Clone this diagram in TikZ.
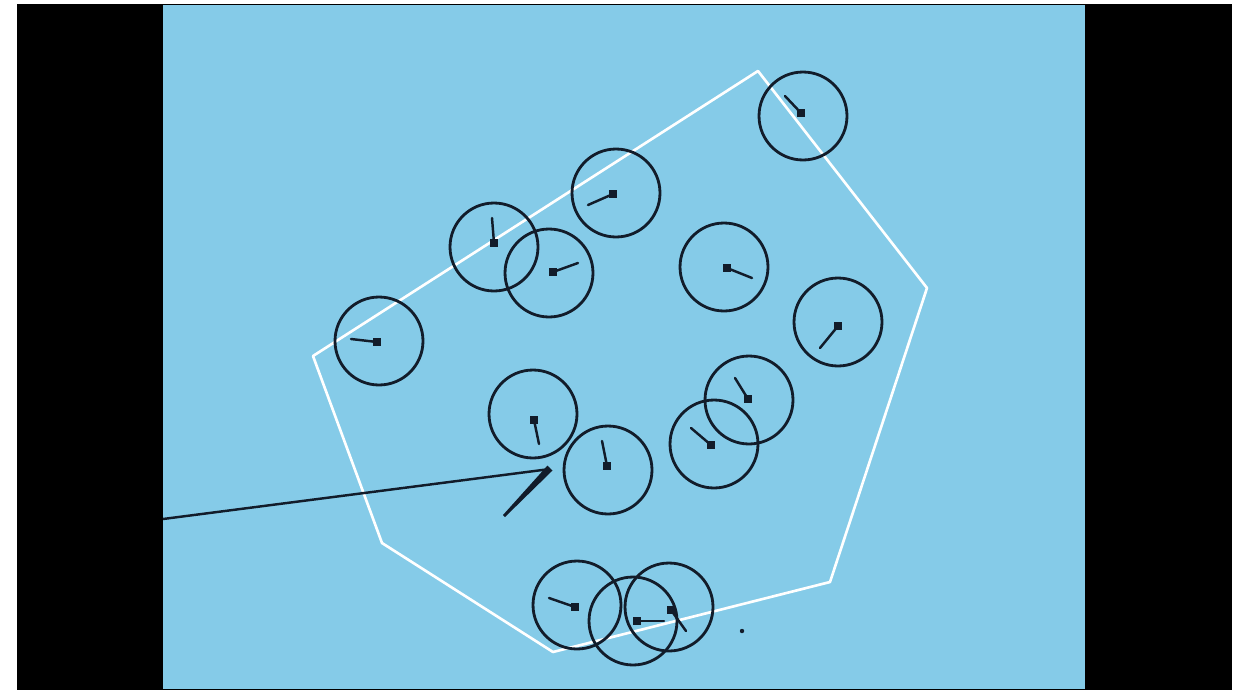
\documentclass[tikz,border=0pt]{standalone}
\usepackage{tikz}
\usetikzlibrary{positioning}
\definecolor{pane}{RGB}{133,203,232}
\definecolor{ringc}{RGB}{18,28,42}

\begin{document}
\begin{tikzpicture}[
  x=0.02cm, y=-0.02cm,
  agent/.style={circle, draw=ringc, line width=1.6pt, minimum size=1.76cm, inner sep=0pt},
  needle/.style={draw=ringc, line width=1.4pt, line cap=round},
  blob/.style={rectangle, fill=ringc, minimum size=0.17cm, inner sep=0pt},
  hull/.style={draw=white, line width=1.5pt, line join=round},
  pointer/.style={draw=ringc, line width=1.4pt},
  ]
  \useasboundingbox (0,0) rectangle (1243,690);
  \fill[white] (0,0) rectangle (1243,690);
  \fill[black] (17,4) rectangle (1232,690);
  \fill[pane] (163,5) rectangle (1085,689);

  % boundary
  \draw[hull] (758,71) -- (927,288) -- (830,582) -- (553,652)
    -- (382,543) -- (313,356) -- cycle;

  % agents
  \node[agent] (a1)  at (803,116) {};
  \node[agent] (a2)  at (616,193) {};
  \node[agent] (a3)  at (494,247) {};
  \node[agent] (a4)  at (549,273) {};
  \node[agent] (a5)  at (724,267) {};
  \node[agent] (a6)  at (379,341) {};
  \node[agent] (a7)  at (838,322) {};
  \node[agent] (a8)  at (533,414) {};
  \node[agent] (a9)  at (608,470) {};
  \node[agent] (a10) at (749,400) {};
  \node[agent] (a11) at (714,444) {};
  \node[agent] (a12) at (577,605) {};
  \node[agent] (a13) at (633,621) {};
  \node[agent] (a14) at (669,607) {};

  % headings
  \draw[needle] (785,96) -- (801,113);  \node[blob] (b1)  at (801,113) {};
  \draw[needle] (588,205) -- (613,194); \node[blob] (b2)  at (613,194) {};
  \draw[needle] (492,218) -- (494,243); \node[blob] (b3)  at (494,243) {};
  \draw[needle] (578,263) -- (553,272); \node[blob] (b4)  at (553,272) {};
  \draw[needle] (752,278) -- (727,268); \node[blob] (b5)  at (727,268) {};
  \draw[needle] (351,339) -- (377,342); \node[blob] (b6)  at (377,342) {};
  \draw[needle] (820,348) -- (838,326); \node[blob] (b7)  at (838,326) {};
  \draw[needle] (539,444) -- (534,420); \node[blob] (b8)  at (534,420) {};
  \draw[needle] (602,441) -- (607,466); \node[blob] (b9)  at (607,466) {};
  \draw[needle] (735,378) -- (748,399); \node[blob] (b10) at (748,399) {};
  \draw[needle] (691,428) -- (711,445); \node[blob] (b11) at (711,445) {};
  \draw[needle] (549,598) -- (575,607); \node[blob] (b12) at (575,607) {};
  \draw[needle] (664,621) -- (637,621); \node[blob] (b13) at (637,621) {};
  \draw[needle] (686,631) -- (671,610); \node[blob] (b14) at (671,610) {};
  \fill[ringc] (742,631) circle (2.2);

  % pointer
  \coordinate (src) at (163,519);
  \coordinate (tip) at (550,469);
  \draw[pointer] (src) -- (tip);
  \fill[ringc] (503,515) -- (547.5,465.5) -- (552.5,470.5) -- (505,517) -- cycle;
\end{tikzpicture}
\end{document}
